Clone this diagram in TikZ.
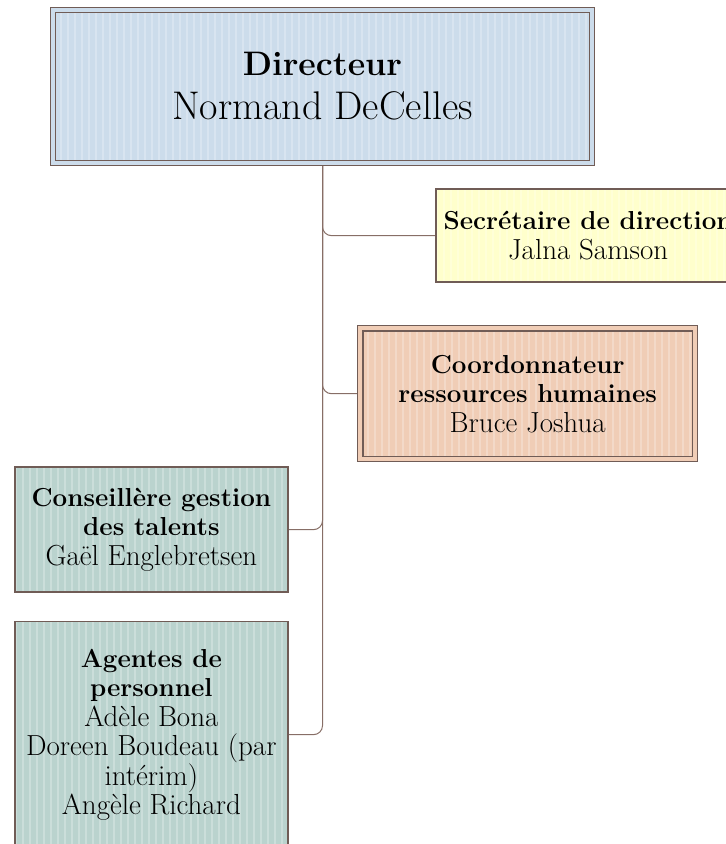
\documentclass[tikz,border=0pt]{standalone}
\usepackage{tikz}
\usetikzlibrary{positioning, backgrounds}
\definecolor{edgebrown}{RGB}{112,92,86}
\definecolor{linkbrown}{RGB}{135,110,102}
\definecolor{dirblue}{RGB}{204,220,235}
\definecolor{secyellow}{RGB}{255,255,204}
\definecolor{rhpeach}{RGB}{240,205,182}
\definecolor{staffgreen}{RGB}{186,211,206}
\newcommand{\hd}[1]{{\fontsize{26}{29.5}\selectfont\bfseries #1}}
\newcommand{\bighd}[1]{{\fontsize{34}{44}\selectfont\bfseries #1}}

\begin{document}
\begin{tikzpicture}[
    x=1pt, y=-1pt,
    N/.style = {draw=edgebrown, line width=1.5pt, inner sep=0pt, align=center,
                font=\fontsize{29}{29.5}\selectfont, stripes},
    D/.style = {line width=1.2pt, double distance=4pt},
    stripes/.style = {path picture={
        \foreach \s in {0,7,...,560}
          \fill[white, opacity=.25] ([xshift=\s pt]path picture bounding box.south west) rectangle ++(2pt,900pt);}},
    link/.style = {draw=linkbrown, line width=1pt, rounded corners=9pt}
    ]

  \useasboundingbox (0,0) rectangle (726,844);
  \clip (0,0) rectangle (726,844);

  %%% Directeur %%%
  \node[N, D, fill=dirblue, double=dirblue, minimum width=538.6pt, minimum height=152.6pt,
        font=\fontsize{40}{44}\selectfont] (dir) at (322.5,86.5)
        {\bighd{Directeur}\\Normand DeCelles};

  %%% Secretaire %%%
  \node[N, fill=secyellow, minimum width=304pt, minimum height=93pt] (sec)
        [below right=25pt and -157pt of dir]
        {\hd{Secrétaire de direction}\\Jalna Samson};

  %%% Ressources humaines %%%
  \node[N, D, fill=rhpeach, double=rhpeach, minimum width=334.6pt, minimum height=130.6pt] (rh)
        [below right=164.4pt and -232.6pt of dir]
        {\hd{Coordonnateur}\\\hd{ressources humaines}\\Bruce Joshua};

  %%% Talents %%%
  \node[N, fill=staffgreen, minimum width=273pt, minimum height=125pt] (talents)
        [below left=303pt and -236pt of dir]
        {\hd{Conseillère gestion}\\\hd{des talents}\\Gaël Englebretsen};

  %%% Agentes %%%
  \node[N, fill=staffgreen, minimum width=273pt, minimum height=226pt] (agentes)
        [below=28pt of talents]
        {\hd{Agentes de}\\\hd{personnel}\\Adèle Bona\\Doreen Boudeau (par\\intérim)\\Angèle Richard};

  % Links
  \begin{scope}[on background layer]
    \draw[link] (dir.south) |- (sec.west);
    \draw[link] (dir.south) |- (rh.west);
    \draw[link] (dir.south) |- (talents.east);
    \draw[link] (dir.south) |- (agentes.east);
  \end{scope}

\end{tikzpicture}
\end{document}
